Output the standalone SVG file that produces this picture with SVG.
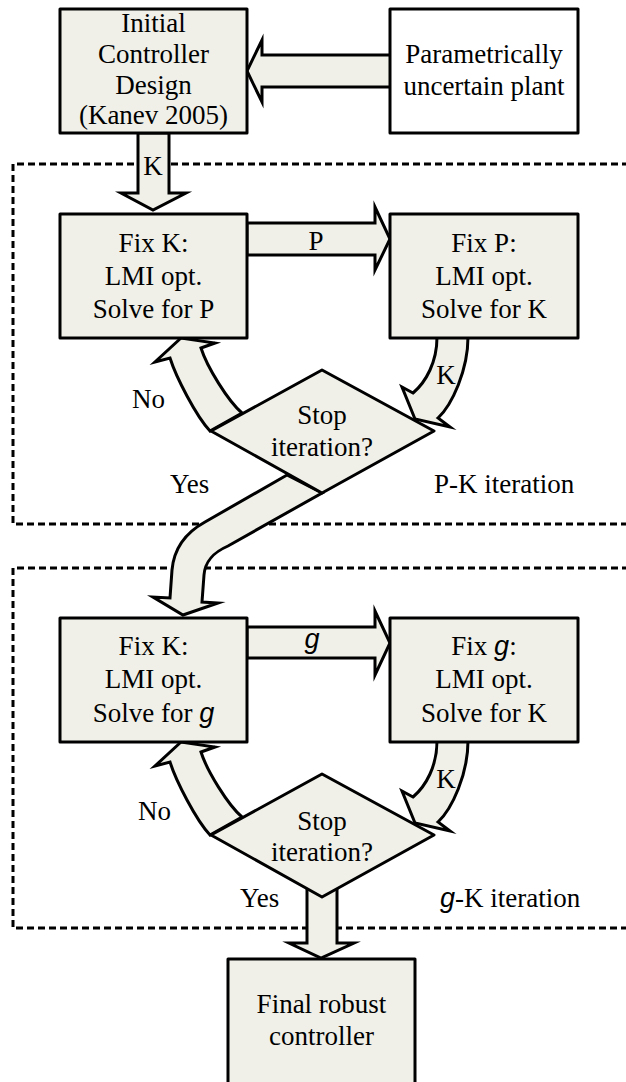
<svg xmlns="http://www.w3.org/2000/svg" width="626" height="1082" viewBox="0 0 626 1082">
<style>
.box{fill:#f0f0e9;stroke:#000;stroke-width:3;stroke-linejoin:round}
.wbox{fill:#fff;stroke:#000;stroke-width:3;stroke-linejoin:round}
.arr{fill:#f0f0e9;stroke:#000;stroke-width:3;stroke-linejoin:miter;stroke-miterlimit:6}
.dash{fill:none;stroke:#000;stroke-width:3;stroke-dasharray:7 4}
.t{font-family:"Liberation Serif","Times New Roman",serif;font-size:27px;fill:#000}
.m{text-anchor:middle}
.g{font-family:"Liberation Sans",Arial,sans-serif;font-style:italic}
</style>
<g id="frames">
<path class="dash" d="M640 164 H13 V524 H640"/>
<path class="dash" d="M640 568 H13 V928 H640"/>
</g>
<g id="connectors">
<path class="arr" d="M391 55 H262 V40 L247 71 L262 102 V87 H391 Z"/>
<path class="arr" d="M138 133 V193 H121 L153 210 L186 193 H169 V133 Z"/>
<path class="arr" d="M247 223 H375 V207 L390 239 L375 270 V255 H247 Z"/>
<path class="arr" d="M247 627 H375 V611 L390 643 L375 675 V658 H247 Z"/>
<path class="arr" d="M210 431 C196 416 176 377 170 358 L155 362 L181 338 L215 343 L201 348 C207 367 228 401 242 413 Z"/>
<path class="arr" d="M437 337 C437 362 426 382 413 393 L402 387 L415 419 L450 427 L438 418 C452 405 468 370 468 337 Z"/>
<path class="arr" d="M287 475 L205 522 C185 533 174 548 172 570 L170 598 L153 597 L183 615 L218 603 L202 602 L204 575 C205 562 212 553 228 546 L322 493 Z"/>
<g transform="translate(0,404)">
<path class="arr" d="M210 431 C196 416 176 377 170 358 L155 362 L181 338 L215 343 L201 348 C207 367 228 401 242 413 Z"/>
<path class="arr" d="M437 337 C437 362 426 382 413 393 L402 387 L415 419 L450 427 L438 418 C452 405 468 370 468 337 Z"/>
</g>
<path class="arr" d="M307 880 V943 H289 L321 958 L354 943 H337 V880 Z"/>
<text class="t m" x="153" y="175">K</text>
<text class="t m g" x="316" y="250" style="font-family:'Liberation Serif',serif;font-style:normal">P</text>
<text class="t m g" x="312" y="648">g</text>
<text class="t m" x="446" y="384">K</text>
<text class="t m" x="446" y="788">K</text>
<text class="t" x="132" y="408">No</text>
<text class="t" x="170" y="493">Yes</text>
<text class="t" x="138" y="820">No</text>
<text class="t" x="240" y="907">Yes</text>
</g>
<g id="initial">
<rect class="box" x="60" y="9" width="187" height="124"/>
<text class="t m" x="153.5" y="32">Initial</text>
<text class="t m" x="153.5" y="63">Controller</text>
<text class="t m" x="153.5" y="94">Design</text>
<text class="t m" x="153.5" y="124">(Kanev 2005)</text>
</g>
<g id="plant">
<rect class="wbox" x="390" y="9" width="188" height="124"/>
<text class="t m" x="484" y="63">Parametrically</text>
<text class="t m" x="484" y="95">uncertain plant</text>
</g>
<g id="fixK1">
<rect class="box" x="60" y="214" width="187" height="124"/>
<text class="t m" x="153.5" y="252">Fix K:</text>
<text class="t m" x="153.5" y="285">LMI opt.</text>
<text class="t m" x="153.5" y="318">Solve for P</text>
</g>
<g id="fixP">
<rect class="box" x="390" y="214" width="188" height="124"/>
<text class="t m" x="484" y="252">Fix P:</text>
<text class="t m" x="484" y="285">LMI opt.</text>
<text class="t m" x="484" y="318">Solve for K</text>
</g>
<g id="stop1">
<polygon class="box" points="322,370 434,431 322,493 211,431"/>
<text class="t m" x="322" y="424">Stop</text>
<text class="t m" x="322" y="456">iteration?</text>
</g>
<g id="pk-label">
<text class="t" x="434" y="493">P-K iteration</text>
</g>
<g id="fixK2">
<rect class="box" x="60" y="618" width="187" height="124"/>
<text class="t m" x="153.5" y="655">Fix K:</text>
<text class="t m" x="153.5" y="688">LMI opt.</text>
<text class="t m" x="153.5" y="722">Solve for <tspan class="g">g</tspan></text>
</g>
<g id="fixG">
<rect class="box" x="390" y="618" width="188" height="124"/>
<text class="t m" x="484" y="655">Fix <tspan class="g">g</tspan>:</text>
<text class="t m" x="484" y="688">LMI opt.</text>
<text class="t m" x="484" y="722">Solve for K</text>
</g>
<g id="stop2">
<polygon class="box" points="322,774 434,835 322,897 211,835"/>
<text class="t m" x="322" y="830">Stop</text>
<text class="t m" x="322" y="861">iteration?</text>
</g>
<g id="gk-label">
<text class="t" x="440" y="907"><tspan class="g">g</tspan>-K iteration</text>
</g>
<g id="final">
<rect class="box" x="228" y="959" width="187" height="135"/>
<text class="t m" x="321.5" y="1013">Final robust</text>
<text class="t m" x="321.5" y="1045">controller</text>
</g>
</svg>
